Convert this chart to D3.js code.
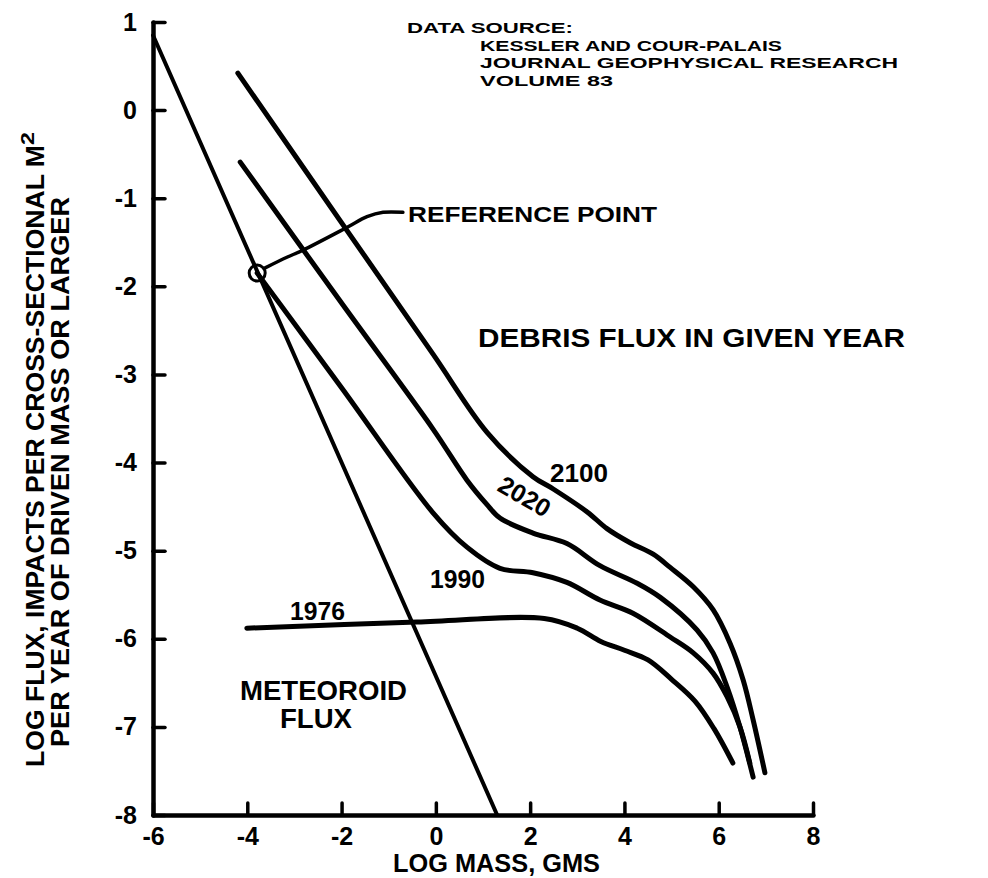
<!DOCTYPE html>
<html>
<head>
<meta charset="utf-8">
<title>Debris flux</title>
<script src="https://d3js.org/d3.v7.min.js"></script>
<style>
    body { margin: 0; background: #fff; }
    svg { display: block; background: #fff; }
    text { font-family: "Liberation Sans", Arial, Helvetica, sans-serif; font-weight: bold; fill: #000; }
</style>
</head>
<body>
<svg id="chart"></svg>
<script>
const width = 988;
const height = 878;

// tick values
const xTicks = [-6, -4, -2, 0, 2, 4, 6, 8];
const yTicks = [-8, -7, -6, -5, -4, -3, -2, -1, 0, 1];

// meteoroid flux (log mass in gms, log flux)
const meteoroidMass = [-6, 1.3];
const meteoroidFlux = [0.85, -8];

// debris flux curves
const years = ["1976", "1990", "2020", "2100"];
const mass1976 = [-4.01, -0.40, 2.30, 3.00, 3.50, 4.00, 4.50, 5.00, 5.50, 5.90, 6.30];
const flux1976 = [-5.88, -5.81, -5.77, -5.88, -6.03, -6.13, -6.24, -6.46, -6.71, -7.02, -7.41];
const mass1990 = [-3.79, -2.00, -0.06, 0.66, 1.36, 2.06, 2.78, 3.48, 4.18, 4.97, 5.46, 5.88, 6.18, 6.45, 6.66];
const flux1990 = [-1.85, -3.15, -4.57, -4.96, -5.20, -5.25, -5.36, -5.56, -5.71, -5.98, -6.16, -6.39, -6.66, -7.00, -7.41];
const mass2020 = [-4.15, -2.00, -0.06, 0.66, 1.09, 1.36, 2.06, 2.78, 3.48, 4.27, 4.76, 5.54, 5.88, 6.18, 6.45, 6.73];
const flux2020 = [-0.59, -2.19, -3.62, -4.20, -4.48, -4.63, -4.80, -4.92, -5.17, -5.37, -5.53, -5.90, -6.16, -6.55, -7.00, -7.57];
const mass2100 = [-4.20, -1.88, -0.06, 1.09, 2.06, 2.49, 3.21, 3.63, 4.12, 4.61, 4.97, 5.46, 5.88, 6.24, 6.52, 6.73, 6.98];
const flux2100 = [0.42, -1.37, -2.77, -3.66, -4.16, -4.30, -4.56, -4.75, -4.91, -5.04, -5.19, -5.41, -5.67, -6.05, -6.47, -6.92, -7.52];

// reference point and its leader
const refMass = -3.79;
const refFlux = -1.85;
const leaderMass = [-3.62, -3.16, -2.82, -1.88, -1.46, -1.12, -0.70];
const leaderFlux = [-1.79, -1.67, -1.59, -1.33, -1.21, -1.16, -1.16];

const svg = d3.select("#chart")
    .attr("width", width)
    .attr("height", height);

const x = d3.scaleLinear().domain([-6, 8]).range([153, 813]);
const y = d3.scaleLinear().domain([-8, 1]).range([815, 22]);

const zip = (ms, fs) => ms.map((m, i) => [m, fs[i]]);

const line = d3.line()
    .x(d => x(d[0]))
    .y(d => y(d[1]))
    .curve(d3.curveCatmullRom.alpha(0.5));

// axes
const xAxis = svg.append("g")
    .attr("transform", `translate(0,${y(-8)})`)
    .call(d3.axisBottom(x).tickValues(xTicks).tickSizeInner(-12).tickSizeOuter(0)
        .tickPadding(12).tickFormat(d => String(d)));

const yAxis = svg.append("g")
    .attr("transform", `translate(${x(-6)},0)`)
    .call(d3.axisLeft(y).tickValues(yTicks).tickSizeInner(-12).tickSizeOuter(0)
        .tickPadding(16).tickFormat(d => String(d)));

[xAxis, yAxis].forEach(g => {
    g.attr("font-family", null).attr("font-size", null);
    g.select(".domain").attr("stroke", "#000").attr("stroke-width", 4.5).attr("stroke-linecap", "round");
    g.selectAll(".tick line").attr("stroke", "#000").attr("stroke-width", 3.5).attr("stroke-linecap", "round");
    g.selectAll(".tick text").style("font-size", "25px").attr("fill", "#000");
});

// meteoroid line
svg.append("path")
    .attr("d", line(zip(meteoroidMass, meteoroidFlux)))
    .attr("fill", "none")
    .attr("stroke", "#000")
    .attr("stroke-width", 4)
    .attr("stroke-linecap", "round");

// debris curves
const curves = [zip(mass1976, flux1976), zip(mass1990, flux1990), zip(mass2020, flux2020), zip(mass2100, flux2100)];
svg.selectAll(".debris")
    .data(curves)
    .enter().append("path")
    .attr("class", "debris")
    .attr("d", d => line(d))
    .attr("fill", "none")
    .attr("stroke", "#000")
    .attr("stroke-width", 5)
    .attr("stroke-linecap", "round");

// reference point
svg.append("circle")
    .attr("cx", x(refMass))
    .attr("cy", y(refFlux))
    .attr("r", 8)
    .attr("fill", "none")
    .attr("stroke", "#000")
    .attr("stroke-width", 3);

svg.append("path")
    .attr("d", line(zip(leaderMass, leaderFlux)))
    .attr("fill", "none")
    .attr("stroke", "#000")
    .attr("stroke-width", 3.5)
    .attr("stroke-linecap", "round");

// texts
function label(txt, px, py, size, len, rot) {
    const t = svg.append("text")
        .attr("x", px)
        .attr("y", py)
        .style("font-size", size + "px")
        .text(txt);
    if (len) t.attr("textLength", len).attr("lengthAdjust", "spacingAndGlyphs");
    if (rot) t.attr("transform", `rotate(${rot},${px},${py})`);
    return t;
}

label("DATA SOURCE:", 407, 33, 15.5, 166);
label("KESSLER AND COUR-PALAIS", 480, 50.5, 15.5, 302);
label("JOURNAL GEOPHYSICAL RESEARCH", 480, 68, 15.5, 418);
label("VOLUME 83", 480, 85.5, 15.5, 133);

label("REFERENCE POINT", 408, 222, 22, 249);
label("DEBRIS FLUX IN GIVEN YEAR", 478, 347, 25, 427);

label(years[3], 550, 482, 26, 58);
label(years[2], 496, 490, 25, 56, 30);
label(years[1], 430, 588, 25, 55);
label(years[0], 290, 620, 25, 55);

label("METEOROID", 240, 700, 27, 167);
label("FLUX", 280, 728, 27, 72);

label("LOG MASS, GMS", 393, 872, 26, 207);

// y axis title, two rotated lines
label("LOG FLUX, IMPACTS PER CROSS-SECTIONAL M", 44, 767, 26, 622, -90);
label("2", 34, 145, 19, 13, -90);
label("PER YEAR OF DRIVEN MASS OR LARGER", 69, 747, 26, 550, -90);
</script>
</body>
</html>
